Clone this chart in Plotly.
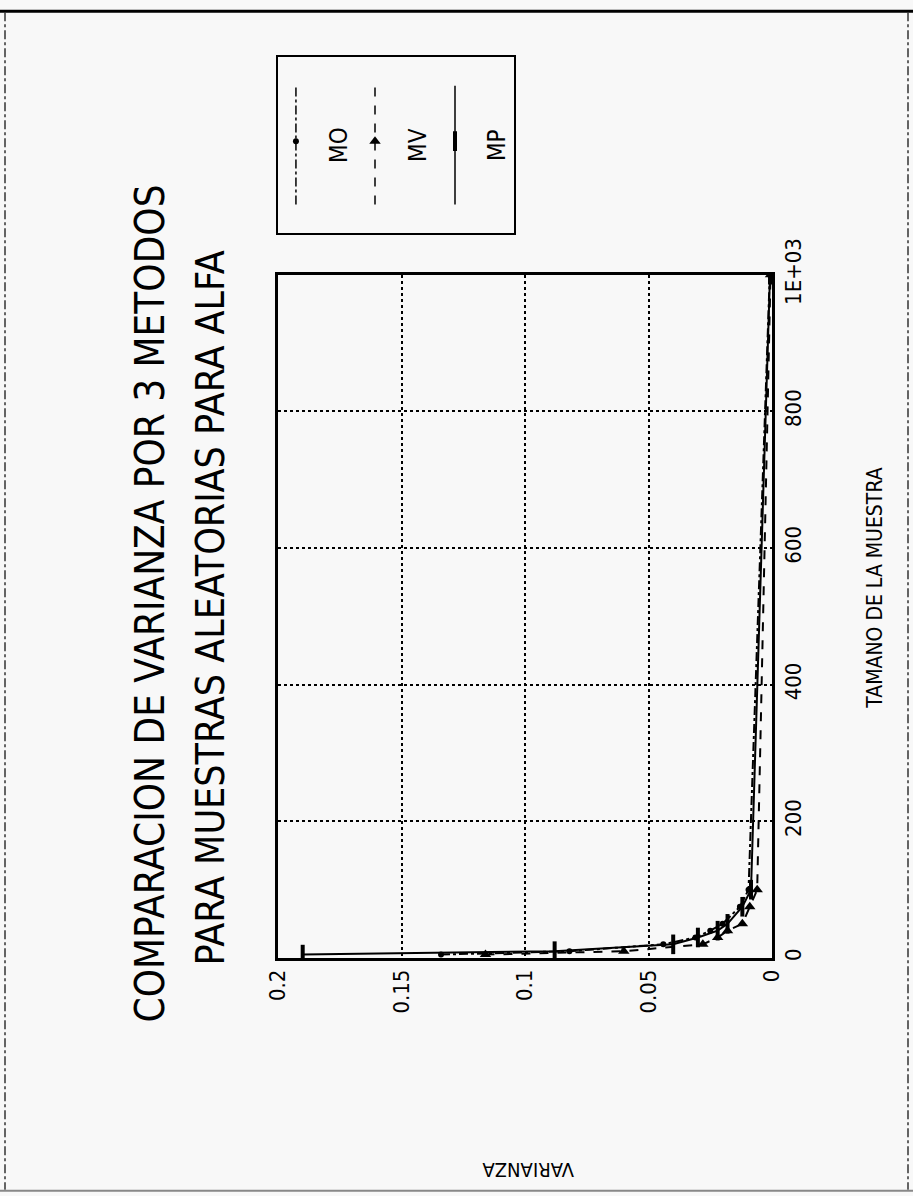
import plotly.graph_objects as go

# ---- data (sample size vs variance) ----
N = [5, 10, 20, 30, 40, 50, 75, 100, 1000]
MO = [0.134, 0.082, 0.044, 0.031, 0.025, 0.020, 0.013, 0.0095, 0.0009]
MV = [0.116, 0.060, 0.028, 0.022, 0.018, 0.012, 0.009, 0.0060, 0.0006]
MP = [0.190, 0.088, 0.040, 0.030, 0.022, 0.018, 0.012, 0.0085, 0.0008]

VAR_TICKS = [0, 0.05, 0.1, 0.15, 0.2]
VAR_LABELS = ["0", "0.05", "0.1", "0.15", "0.2"]
N_TICKS = [0, 200, 400, 600, 800, 1000]
N_LABELS = ["0", "200", "400", "600", "800", "1E+03"]

SERIES = ["MO", "MV", "MP"]
TITLE1 = "COMPARACION DE VARIANZA POR 3 METODOS"
TITLE2 = "PARA MUESTRAS ALEATORIAS PARA ALFA"
XTITLE = "TAMANO DE LA MUESTRA"
YTITLE = "VARIANZA"

FONT = "DejaVu Sans Condensed, Liberation Sans Narrow, Arial Narrow, sans-serif"

W, H = 913, 1196
L, R, T, B = 278, 141, 40, 238
PW, PH = W - L - R, H - T - B


def px(x):
    return (x - L) / PW


def py(y):
    return (H - B - y) / PH


fig = go.Figure()

styles = {
    "MO": dict(dash="dashdot", symbol="circle", size=6, mlw=0),
    "MV": dict(dash="dash", symbol="triangle-up", size=10, mlw=0),
    "MP": dict(dash="solid", symbol="line-ns", size=14, mlw=4),
}
values = {"MO": MO, "MV": MV, "MP": MP}

for name in SERIES:
    s = styles[name]
    fig.add_trace(go.Scatter(
        x=values[name], y=N, mode="lines+markers", name=name,
        line=dict(color="black", width=2, dash=s["dash"]),
        marker=dict(symbol=s["symbol"], size=s["size"], color="black",
                    line=dict(color="black", width=s["mlw"])),
        xaxis="x", yaxis="y", showlegend=False))

# legend sample keys (own small axes)
LEG_X = [0.076, 0.411, 0.75]
for i, name in enumerate(SERIES):
    s = styles[name]
    fig.add_trace(go.Scatter(
        x=[LEG_X[i], LEG_X[i], LEG_X[i]], y=[0.163, 0.522, 0.837],
        mode="lines", line=dict(color="black", width=1.5, dash=s["dash"]),
        xaxis="x2", yaxis="y2", showlegend=False, hoverinfo="skip"))
    fig.add_trace(go.Scatter(
        x=[LEG_X[i]], y=[0.522], mode="markers",
        marker=dict(symbol=s["symbol"], size=s["size"], color="black",
                    line=dict(color="black", width=s["mlw"])),
        xaxis="x2", yaxis="y2", showlegend=False, hoverinfo="skip"))

annotations = []
LEG_TX = [0.258, 0.593, 0.928]
for i, name in enumerate(SERIES):
    annotations.append(dict(x=LEG_TX[i], y=0.5, xref="x2", yref="y2", text=name,
                            textangle=-90, showarrow=False, xanchor="center", yanchor="middle",
                            font=dict(family=FONT, size=24, color="black")))


def ann(x, y, text, angle, size):
    return dict(x=px(x), y=py(y), xref="paper", yref="paper", text=text,
                textangle=angle, showarrow=False, xanchor="center", yanchor="middle",
                font=dict(family=FONT, size=size, color="black"))


annotations += [
    ann(150, 600, TITLE1, -90, 40),
    ann(210, 605, TITLE2, -90, 39),
    ann(875, 585, XTITLE, -90, 21),
    ann(528, 1172, YTITLE, 180, 20),
]

shapes = [
    dict(type="line", xref="paper", yref="paper", x0=px(0), x1=px(913), y0=py(2), y1=py(2),
         line=dict(color="black", width=3)),
    dict(type="line", xref="paper", yref="paper", x0=px(5), x1=px(5), y0=py(3), y1=py(1192),
         line=dict(color="#333333", width=1.5, dash="dashdot")),
    dict(type="line", xref="paper", yref="paper", x0=px(908), x1=px(908), y0=py(3), y1=py(1192),
         line=dict(color="#333333", width=1.5, dash="dashdot")),
    dict(type="line", xref="paper", yref="paper", x0=px(0), x1=px(913), y0=py(1193), y1=py(1193),
         line=dict(color="#888888", width=2)),
]

axis_font = dict(family=FONT, size=22, color="black")

fig.update_layout(
    width=W, height=H,
    margin=dict(l=L, r=R, t=T, b=B),
    paper_bgcolor="#f8f8f8", plot_bgcolor="#f8f8f8",
    showlegend=False,
    xaxis=dict(domain=[0, 1], range=[0.2, 0], tickvals=VAR_TICKS, ticktext=VAR_LABELS,
               tickangle=-90, tickfont=axis_font, showline=True, linecolor="black",
               linewidth=2.5, mirror=True, showgrid=True, gridcolor="black",
               griddash="dot", gridwidth=1.5, zeroline=False, ticks="", anchor="y"),
    yaxis=dict(domain=[0, py(268)], range=[0, 1000], tickvals=N_TICKS, ticktext=N_LABELS,
               side="right", tickangle=-90, tickfont=axis_font, showline=True,
               linecolor="black", linewidth=2.5, mirror=True, showgrid=True,
               gridcolor="black", griddash="dot", gridwidth=1.5, zeroline=False,
               ticks="", anchor="x"),
    xaxis2=dict(domain=[px(278), px(514)], range=[0, 1], visible=True, showticklabels=False,
                showgrid=False, zeroline=False, showline=True, linecolor="black",
                linewidth=2, mirror=True, ticks="", anchor="y2", fixedrange=True),
    yaxis2=dict(domain=[py(226), py(48)], range=[0, 1], showticklabels=False,
                showgrid=False, zeroline=False, showline=True, linecolor="black",
                linewidth=2, mirror=True, ticks="", anchor="x2", fixedrange=True),
    annotations=annotations,
    shapes=shapes,
)

fig.write_html(
    "out.html",
    config={"displayModeBar": False},
    post_script="document.body.style.margin='0';document.body.style.overflow='hidden';",
)
